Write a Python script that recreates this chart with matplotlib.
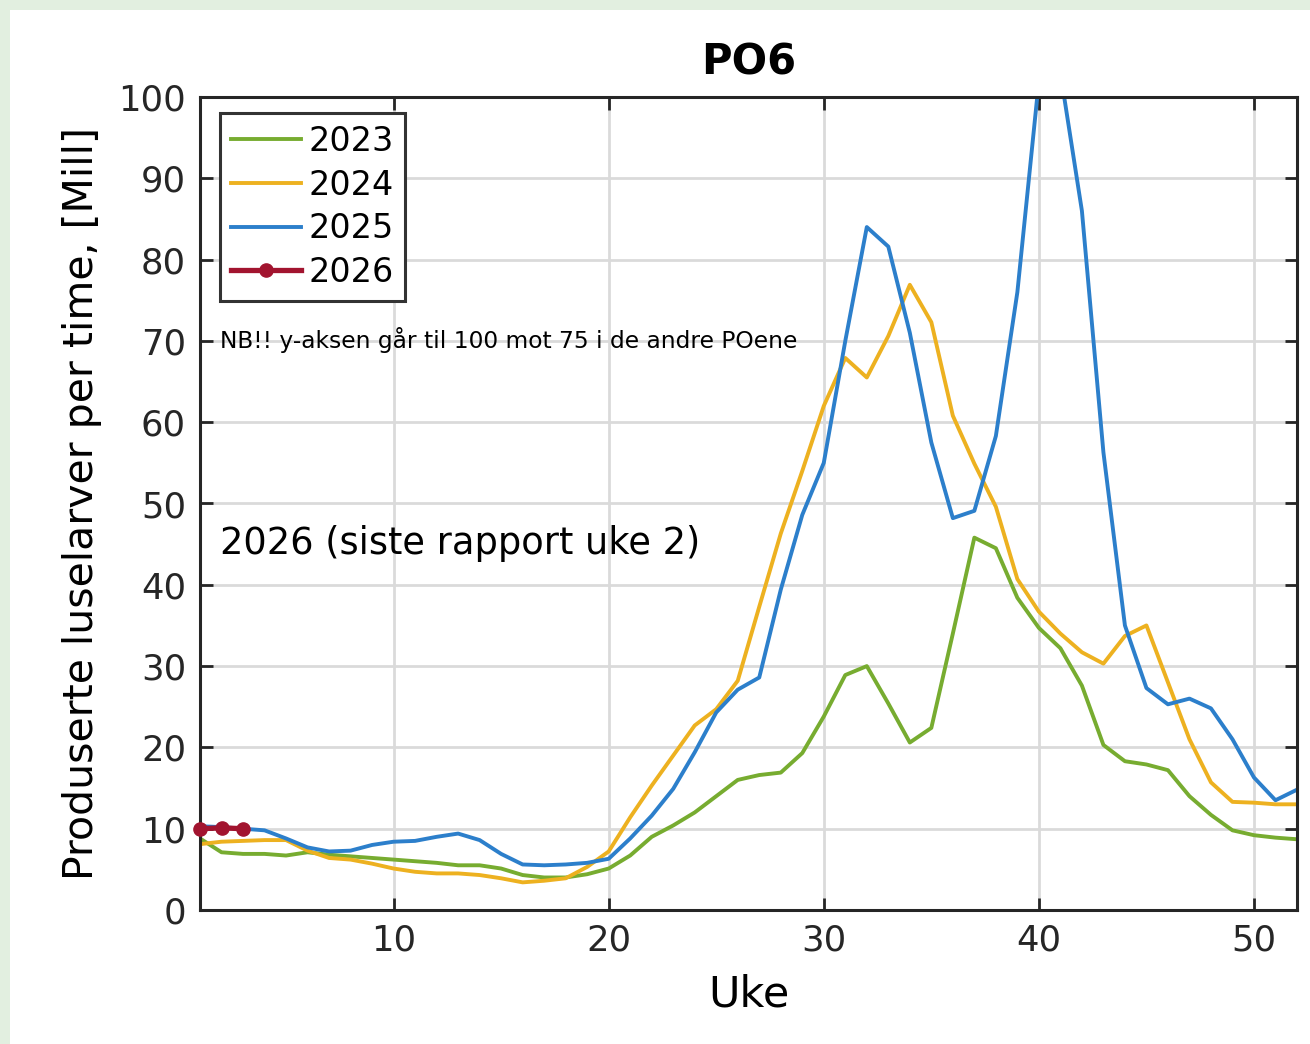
import matplotlib
matplotlib.use("Agg")
import matplotlib.pyplot as plt
from matplotlib.patches import Rectangle

# weeks 1..52
uke = list(range(1, 53))

y2023 = [8.8, 7.1, 6.9, 6.9, 6.7, 7.1, 6.8, 6.6, 6.4, 6.2,
         6.0, 5.8, 5.5, 5.5, 5.1, 4.3, 4.0, 4.0, 4.4, 5.1,
         6.7, 9.0, 10.4, 12.0, 14.0, 16.0, 16.6, 16.9, 19.3, 23.8,
         28.9, 30.0, 25.4, 20.6, 22.4, 34.0, 45.8, 44.5, 38.4, 34.7,
         32.2, 27.6, 20.3, 18.3, 17.9, 17.2, 14.0, 11.7, 9.8, 9.2,
         8.9, 8.7]

y2024 = [8.1, 8.4, 8.5, 8.6, 8.6, 7.3, 6.4, 6.2, 5.7, 5.1,
         4.7, 4.5, 4.5, 4.3, 3.9, 3.4, 3.6, 3.9, 5.3, 7.2,
         11.4, 15.3, 19.0, 22.7, 24.7, 28.2, 37.3, 46.3, 54.0, 62.0,
         67.9, 65.5, 70.6, 76.9, 72.3, 60.8, 54.9, 49.6, 40.7, 36.7,
         34.0, 31.7, 30.3, 33.7, 35.0, 28.0, 21.0, 15.7, 13.3, 13.2,
         13.0, 13.0]

y2025 = [10.3, 10.2, 10.0, 9.8, 8.8, 7.7, 7.2, 7.3, 8.0, 8.4,
         8.5, 9.0, 9.4, 8.6, 6.9, 5.6, 5.5, 5.6, 5.8, 6.3,
         8.8, 11.6, 14.9, 19.4, 24.3, 27.1, 28.6, 39.4, 48.6, 55.0,
         70.0, 84.0, 81.6, 71.0, 57.5, 48.2, 49.1, 58.3, 76.0, 102.0,
         103.0, 86.0, 56.3, 35.0, 27.3, 25.3, 26.0, 24.8, 21.0, 16.3,
         13.5, 14.8]

uke2026 = [1, 2, 3]
y2026 = [10.0, 10.1, 10.0]

c2023 = '#77AC30'
c2024 = '#EDB120'
c2025 = '#2C7FCB'
c2026 = '#A2142F'

fig = plt.figure(figsize=(13.1, 10.44), dpi=100)
fig.patch.set_facecolor('#E2EFE0')
# white panel behind everything
fig.patches.append(Rectangle((10 / 1310, 0), 1 - 10 / 1310, 1 - 10 / 1044,
                             transform=fig.transFigure, facecolor='white',
                             edgecolor='none', zorder=-10))

ax = fig.add_axes([200 / 1310, 1 - 910 / 1044, 1097 / 1310, 813 / 1044])

ax.plot(uke, y2023, color=c2023, lw=2.8, label='2023')
ax.plot(uke, y2024, color=c2024, lw=2.8, label='2024')
ax.plot(uke, y2025, color=c2025, lw=2.8, label='2025')
ax.plot(uke2026, y2026, color=c2026, lw=3.8, marker='o', ms=9.5,
        label='2026', clip_on=False, zorder=5)

ax.set_xlim(1, 52)
ax.set_ylim(0, 100)
ax.set_xticks([10, 20, 30, 40, 50])
ax.set_yticks(range(0, 101, 10))
ax.grid(True, color='#DADADA', lw=2)
ax.set_axisbelow(True)
ax.tick_params(direction='in', length=9, width=2, labelsize=25.5, pad=10,
               top=True, right=True, colors='#262626')
for sp in ax.spines.values():
    sp.set_linewidth(2.2)
    sp.set_color('#262626')

ax.set_title('PO6', fontsize=30, fontweight='bold', pad=16)
ax.set_xlabel('Uke', fontsize=31, labelpad=11)
ax.set_ylabel('Produserte luselarver per time, [Mill]', fontsize=29.5, labelpad=12)

ax.text(0.018, 0.701, 'NB!! y-aksen går til 100 mot 75 i de andre POene',
        transform=ax.transAxes, fontsize=16.8, va='center', ha='left')
ax.text(0.018, 0.451, '2026 (siste rapport uke 2)',
        transform=ax.transAxes, fontsize=26.5, va='center', ha='left')

leg = ax.legend(loc='upper left', bbox_to_anchor=(0.018, 0.980),
                borderaxespad=0, fontsize=24, fancybox=False,
                framealpha=1, handlelength=2.1, handletextpad=0.2,
                labelspacing=0.32, borderpad=0.35)
leg.get_frame().set_edgecolor('#333333')
leg.get_frame().set_linewidth(2.2)

fig.savefig('out.png', dpi=100, facecolor=fig.get_facecolor())
